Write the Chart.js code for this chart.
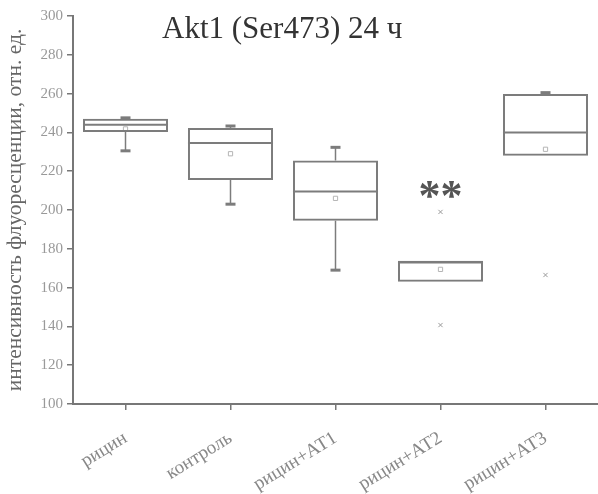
<!DOCTYPE html>
<html>
<head>
<meta charset="utf-8">
<script src="https://cdn.jsdelivr.net/npm/chart.js@4"></script>
<style>
  body { margin: 0; background: #fff; }
  #wrap { width: 598px; height: 494px; }
</style>
</head>
<body>
<div id="wrap"><canvas id="boxChart" width="598" height="494"></canvas></div>
<script>
const labels = ['рицин', 'контроль', 'рицин+АТ1', 'рицин+АТ2', 'рицин+АТ3'];
const whiskerMin = [230.5, 203, 169, 163, 228];
const q1 = [240.2, 215.5, 194.5, 163, 228];
const median = [244, 234.5, 209.5, 173, 240];
const q3 = [247, 242.3, 225.5, 173.8, 259.8];
const whiskerMax = [247.5, 243.3, 232.3, 173.8, 260.5];
const means = [241.8, 229, 206, 169.4, 231.3];
const outlierGroup = ['рицин+АТ2', 'рицин+АТ2', 'рицин+АТ3'];
const outlierValue = [199, 140.7, 166.5];
const yTicks = { min: 100, max: 300, step: 10 };

const chartTitle = 'Akt1 (Ser473) 24 ч';
const yTitle = 'интенсивность флуоресценции, отн. ед.';
const signif = { group: 'рицин+АТ2', value: 196, text: '**' };

const boxGray = '#7c7c7c';
const serif = '"Liberation Serif", "Times New Roman", serif';

document.addEventListener('DOMContentLoaded', function () {
    const canvas = document.getElementById('boxChart');
    const ctx = canvas.getContext('2d');

    // whiskers, caps and medians drawn with the chart scales
    const boxExtras = {
        id: 'boxExtras',
        afterDatasetsDraw(chart) {
            const c = chart.ctx;
            const x = chart.scales.x;
            const y = chart.scales.y;
            const meta = chart.getDatasetMeta(0);
            c.save();
            c.strokeStyle = boxGray;
            labels.forEach((lab, i) => {
                const cx = x.getPixelForValue(i);
                const half = meta.data[i].width / 2;
                c.lineWidth = 2;
                c.beginPath();
                c.moveTo(cx - half, y.getPixelForValue(median[i]));
                c.lineTo(cx + half, y.getPixelForValue(median[i]));
                c.stroke();
                [[whiskerMax[i], q3[i]], [whiskerMin[i], q1[i]]].forEach(([w, q]) => {
                    if (Math.abs(w - q) < 0.01) return;
                    const wy = y.getPixelForValue(w);
                    c.lineWidth = 1.5;
                    c.beginPath();
                    c.moveTo(cx, wy);
                    c.lineTo(cx, y.getPixelForValue(q));
                    c.stroke();
                    c.lineWidth = 3;
                    c.beginPath();
                    c.moveTo(cx - 5, wy);
                    c.lineTo(cx + 5, wy);
                    c.stroke();
                });
            });
            // significance mark
            const sx = x.getPixelForValue(labels.indexOf(signif.group));
            c.fillStyle = '#555';
            c.font = 'bold 44px ' + serif;
            c.textAlign = 'center';
            c.textBaseline = 'alphabetic';
            c.fillText(signif.text, sx, y.getPixelForValue(signif.value) - 8);
            // title inside the plot
            c.fillStyle = '#333';
            c.font = '31px ' + serif;
            c.textAlign = 'left';
            c.fillText(chartTitle, 162, 38);
            c.restore();
        }
    };

    new Chart(ctx, {
        type: 'bar',
        data: {
            labels: labels,
            datasets: [
                {
                    label: 'box',
                    data: labels.map((l, i) => [q1[i], q3[i]]),
                    backgroundColor: 'rgba(0,0,0,0)',
                    borderColor: boxGray,
                    borderWidth: 2,
                    borderSkipped: false,
                    barPercentage: 0.81,
                    categoryPercentage: 1
                },
                {
                    type: 'line',
                    label: 'mean',
                    data: means,
                    showLine: false,
                    pointStyle: 'rect',
                    pointRadius: 3,
                    pointBorderWidth: 1,
                    pointBorderColor: '#b5b5b5',
                    pointBackgroundColor: '#fff'
                },
                {
                    type: 'line',
                    label: 'outliers',
                    data: outlierGroup.map((g, i) => ({ x: g, y: outlierValue[i] })),
                    showLine: false,
                    pointStyle: 'crossRot',
                    pointRadius: 3,
                    pointBorderWidth: 1,
                    pointBorderColor: '#9a9a9a'
                }
            ]
        },
        options: {
            responsive: false,
            animation: false,
            layout: { autoPadding: false, padding: { top: 16, right: 0, left: 0, bottom: 0 } },
            plugins: {
                legend: { display: false },
                tooltip: { enabled: false }
            },
            scales: {
                x: {
                    offset: true,
                    afterFit: s => { s.height = 90; },
                    border: { color: '#777', width: 2 },
                    grid: { offset: false, drawOnChartArea: false, tickLength: 6, color: '#777', lineWidth: 1.5 },
                    ticks: {
                        color: '#888',
                        font: { family: serif, size: 19 },
                        minRotation: 31.6,
                        maxRotation: 31.6,
                        padding: 17
                    }
                },
                y: {
                    min: yTicks.min,
                    max: yTicks.max,
                    afterFit: s => { s.width = 73; },
                    border: { color: '#777', width: 2 },
                    grid: { drawOnChartArea: false, tickLength: 6, color: '#777', lineWidth: 1.5 },
                    ticks: {
                        stepSize: yTicks.step,
                        color: '#999',
                        padding: 4,
                        font: { family: serif, size: 15 },
                        callback: v => (v % 20 === 0 ? v : '')
                    },
                    title: {
                        display: true,
                        text: yTitle,
                        color: '#666',
                        font: { family: serif, size: 21.5 },
                        padding: { top: 2, bottom: 0 }
                    }
                }
            }
        },
        plugins: [boxExtras]
    });
});
</script>
</body>
</html>
